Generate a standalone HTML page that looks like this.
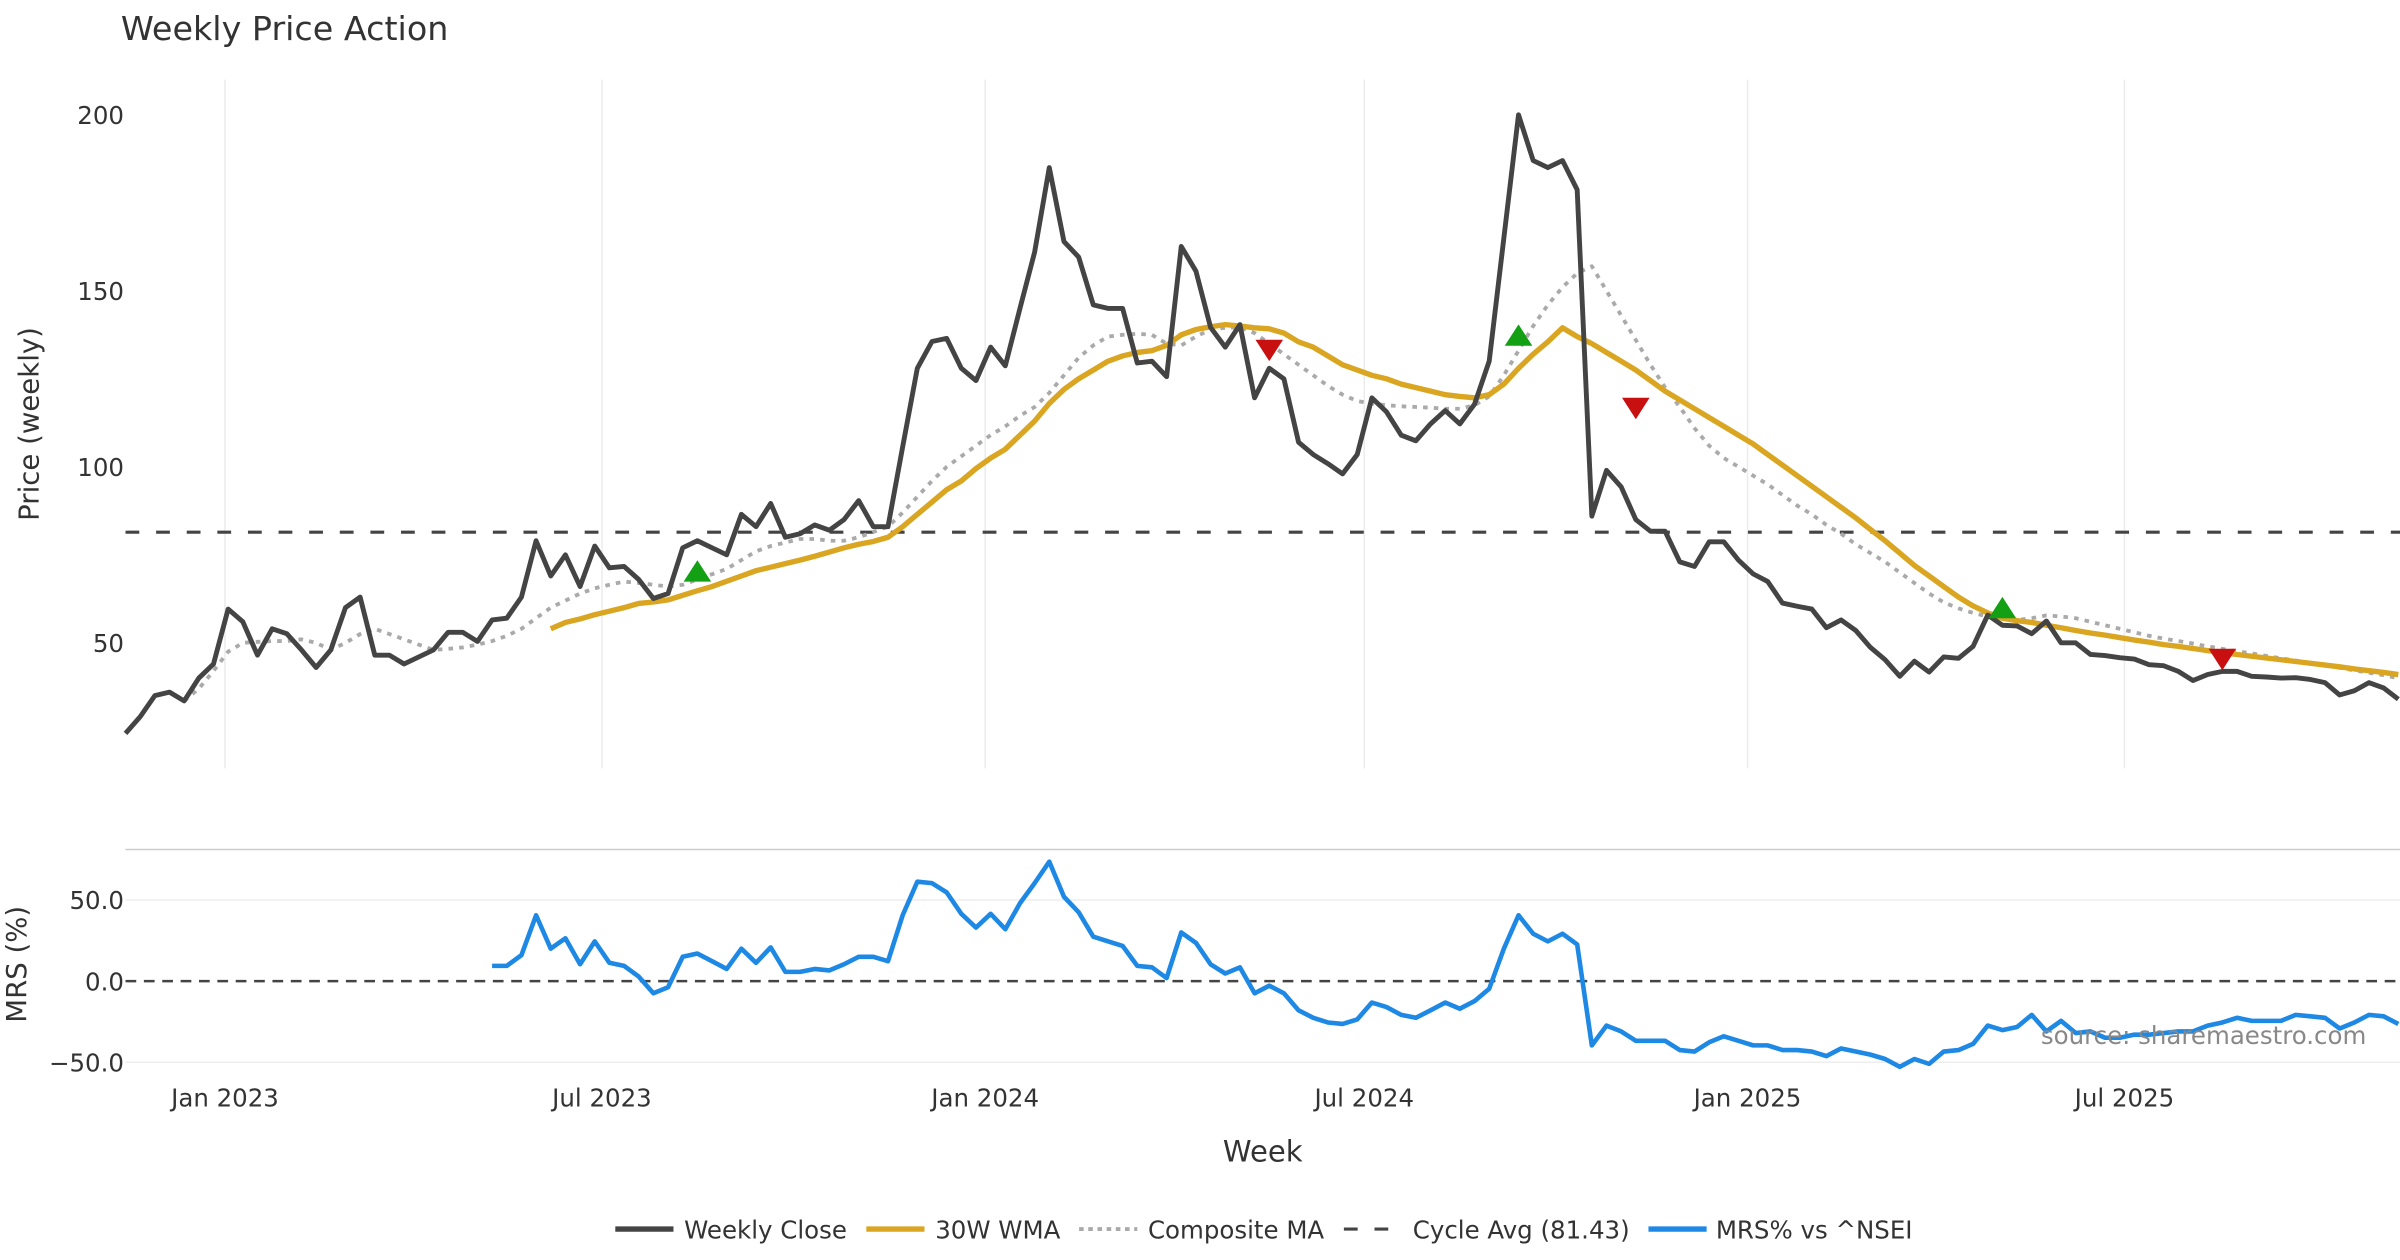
<!DOCTYPE html>
<html><head><meta charset="utf-8"><title>Weekly Price Action</title>
<style>html,body{margin:0;padding:0;background:#fff;}svg{display:block;font-family:"DejaVu Sans","Liberation Sans",sans-serif;}</style>
</head><body>
<svg id="chart" width="2400" height="1260" viewBox="0 0 1568 823.2" xmlns="http://www.w3.org/2000/svg">
<rect width="1568" height="823.2" fill="#fff"/>
<text x="79" y="26" font-size="21.8" fill="#333">Weekly Price Action</text>
<g id="price-grid"></g><g id="mrs-grid"></g>
<g id="price-plot"></g><g id="mrs-plot"></g><g id="axes"></g>
<text transform="translate(25,277) rotate(-90)" text-anchor="middle" font-size="18" fill="#333">Price (weekly)</text>
<text transform="translate(17,630) rotate(-90)" text-anchor="middle" font-size="18" fill="#333">MRS (%)</text>
<text x="825" y="759" text-anchor="middle" font-size="19" fill="#333">Week</text>
<text x="1546" y="682" text-anchor="end" font-size="16" fill="#888">source: sharemaestro.com</text>
<g font-size="16" fill="#333">
<g><line x1="402" y1="803" x2="440" y2="803" stroke="#444" stroke-width="3.5"/><text x="447" y="809">Weekly Close</text></g>
<g><line x1="566" y1="803" x2="604" y2="803" stroke="#DAA520" stroke-width="3.5"/><text x="611" y="809">30W WMA</text></g>
<g><line x1="705" y1="803" x2="743" y2="803" stroke="#aaa" stroke-width="2.5" stroke-dasharray="3,3"/><text x="750" y="809">Composite MA</text></g>
<g><line x1="878" y1="803" x2="916" y2="803" stroke="#444" stroke-width="2" stroke-dasharray="9,11"/><text x="923" y="809">Cycle Avg (81.43)</text></g>
<g><line x1="1077" y1="803" x2="1115" y2="803" stroke="#1E88E5" stroke-width="3.5"/><text x="1121" y="809">MRS% vs ^NSEI</text></g>
</g>
</svg>
<script>
const startDate = "2022-11-14";
const closeValues = [24.3,29,35,36,33.5,40,44,59.6,56,46.5,54,52.6,48,43,48,60,63,46.5,46.5,44,46,48,53,53,50.4,56.5,57,63,79,69,75,66,77.5,71.3,71.7,68,62.6,64,77,79,77,75,86.5,83,89.6,80,81,83.5,82,85,90.4,83,83,105.7,128,135.6,136.5,128,124.5,134,128.7,145,161,185,164,159.6,146,145,145,129.5,130,125.6,162.6,155.6,139.6,134,140.4,119.6,128,125,107,103.5,100.9,98,103.5,119.6,115.6,109,107.4,112.2,116,112.2,117.8,130,165,200,187,185,187,178.7,86,99,94.3,85,81.7,81.7,73,71.7,78.7,78.7,73.5,69.6,67.4,61.3,60.4,59.6,54.3,56.5,53.5,48.7,45.2,40.5,44.8,41.7,46,45.6,49,57.9,55,54.8,52.6,56.2,50,50,46.7,46.4,45.8,45.4,43.8,43.5,41.9,39.3,41,41.9,41.9,40.5,40.3,40,40.1,39.6,38.7,35.2,36.4,38.7,37.2,34];
const wmaStart = 29;
const wmaValues = [54,55.8,56.8,58,59,60,61.2,61.6,62.2,63.5,64.8,66,67.5,69,70.5,71.5,72.5,73.5,74.6,75.8,77,78,78.8,80,83,86.5,90,93.5,96,99.5,102.5,105,109,113,118,122,125,127.5,130,131.5,132.5,133,134.5,137.5,139,139.8,140.4,140,139.5,139.2,138,135.5,134,131.5,129,127.5,126,125,123.5,122.5,121.5,120.5,120,119.6,120.5,123.5,128,132,135.5,139.5,137,135,132.5,130,127.5,124.5,121.5,119,116.5,114,111.5,109,106.5,103.5,100.5,97.5,94.5,91.5,88.5,85.5,82.2,79,75.5,72,69,66,63,60.5,58.5,57,56.3,55.8,55,54.3,53.5,52.8,52.2,51.5,50.8,50.2,49.5,49,48.4,47.8,47.2,46.7,46.2,45.7,45.2,44.7,44.2,43.7,43.2,42.6,42.1,41.6,41];
const compStart = 4;
const compValues = [33.5,37,42,47.5,50,50.3,50.5,50.5,51,50,48,50,52.5,54,52.5,51,49.5,48,48.3,48.7,49.5,50.5,52,54,57,60,62,64,65.5,66.5,67.4,67,66.5,66,66.5,68,69.5,71,73.5,76,77.5,78.5,79.5,79.5,79,79,80,81.5,83,87,91.5,96,100,103,106,109,111.5,114.5,117,121,126,131,134.5,137,137.5,137.8,137.5,135,134.5,137,139,139.5,139.6,138,135,132,129,126,123,120.5,118.7,118,117.5,117.2,117,116.8,116.5,116.5,117.5,120,126,133,140,146,151,155,157,150,143,136,129,122.5,117,111,106,102.5,100,97.5,95,92,89,86.5,83.5,81,78,75.5,73,70,67,64,61.5,59.8,58.5,57.5,57,56.5,57,57.8,57.5,57,56,55,54,53,52,51.2,50.5,49.8,49,48.3,47.6,47,46.3,45.6,45,44.3,43.6,42.9,42.2,41.5,40.8,40];
const mrsStart = 25;
const mrsValues = [9.4,9.4,16,40.6,20,26.4,10.4,24.5,11.3,9.4,2.8,-7.5,-3.8,15,17,12.3,7.5,20,11.3,20.8,5.7,5.7,7.5,6.6,10.4,15,15,12.3,40.6,61.3,60.4,54.7,41.5,33,41.5,32,48,60.4,73.6,52,42.5,27.4,24.5,21.7,9.4,8.5,1.9,30,23.6,10.4,4.7,8.5,-7.5,-2.8,-7.5,-18,-22.6,-25.5,-26.4,-23.6,-13.2,-16,-20.8,-22.6,-18,-13.2,-17,-12.3,-4.7,20,40.6,29.2,24.5,29.2,22.6,-39.6,-27.4,-31,-36.8,-36.8,-36.8,-42.5,-43.4,-37.7,-34,-36.8,-39.6,-39.6,-42.5,-42.5,-43.4,-46.2,-41.5,-43.4,-45.3,-48,-52.8,-48,-51,-43.4,-42.5,-38.7,-27.4,-30.2,-28.3,-20.8,-31,-24.5,-32,-31,-34.9,-34.9,-33,-33,-32,-31,-31,-27.4,-25.5,-22.6,-24.5,-24.5,-24.5,-20.8,-21.7,-22.6,-29.2,-25.5,-20.8,-21.7,-26.4];
const cycleAvg = 81.43;
const buyWeeks = [39,95,128];
const buyValues = [70,137,59.6];
const sellWeeks = [78,103,143];
const sellValues = [133.5,117,45.7];
const priceTicks = [50,100,150,200];
const mrsTicks = [50,0,-50];
const mrsTickLabels = ["50.0","0.0","\u221250.0"];
const dateTicks = ["2023-01-01","2023-07-01","2024-01-01","2024-07-01","2025-01-01","2025-07-01"];
const dateTickLabels = ["Jan 2023","Jul 2023","Jan 2024","Jul 2024","Jan 2025","Jul 2025"];

const NS="http://www.w3.org/2000/svg";
const t0=Date.parse(startDate), WEEK=7*86400000;
const X0=82, PXW=9.58;
const tJan23=Date.parse("2023-01-01");
function xWeek(i){return X0+i*PXW;}
function xDate(s){return 147+(Date.parse(s)-tJan23)/WEEK*9.525;}
function yPrice(v){return 75+(200-v)*2.3;}
function yMrs(v){return 641-v*1.06;}
function mk(tag,attrs,parent){const e=document.createElementNS(NS,tag);for(const k in attrs)e.setAttribute(k,attrs[k]);parent.appendChild(e);return e;}
const pg=document.getElementById('price-grid'),mg=document.getElementById('mrs-grid'),pp=document.getElementById('price-plot'),mp=document.getElementById('mrs-plot'),ax=document.getElementById('axes');
dateTicks.forEach((d,k)=>{const x=xDate(d);
 const g1=mk('line',{x1:x,x2:x,y1:52,y2:502,stroke:'#ececec','stroke-width':1},pg);
 
 
 const t=mk('text',{x:x,y:723,'text-anchor':'middle','font-size':16,fill:'#333'},ax);t.textContent=dateTickLabels[k];
 
 
});
priceTicks.forEach(v=>{const t=mk('text',{x:81,y:yPrice(v)+6,'text-anchor':'end','font-size':16,fill:'#333'},ax);t.textContent=v;
 
 
});
mrsTicks.forEach((v,k)=>{const y=yMrs(v);
 if(v!==0){const gl=mk('line',{x1:82,x2:1568,y1:y,y2:y,stroke:'#eeeeee','stroke-width':1},mg);
 
 }
 const t=mk('text',{x:81,y:y+6,'text-anchor':'end','font-size':16,fill:'#333'},ax);t.textContent=mrsTickLabels[k];
 
 
});
const sep=mk('line',{x1:82,x2:1568,y1:555,y2:555,stroke:'#ccc','stroke-width':1},mg);


function path(vals,start,yf,attrs,parent,name){let d='';vals.forEach((v,i)=>{d+=(i?'L':'M')+xWeek(start+i).toFixed(2)+','+yf(v).toFixed(2);});
 const p=mk('path',Object.assign({d:d,fill:'none','stroke-linejoin':'round'},attrs),parent);
 
 return p;}
const ca=mk('line',{x1:82,x2:1568,y1:yPrice(cycleAvg),y2:yPrice(cycleAvg),stroke:'#444','stroke-width':2,'stroke-dasharray':'9,11'},pp);


path(compValues,compStart,yPrice,{stroke:'#aaa','stroke-width':2.5,'stroke-dasharray':'3,4'},pp,'composite-ma-line');
path(wmaValues,wmaStart,yPrice,{stroke:'#DAA520','stroke-width':3.5},pp,'wma-30w-line');
path(closeValues,0,yPrice,{stroke:'#444','stroke-width':3.2},pp,'weekly-close-line');
buyWeeks.forEach((w,i)=>{const x=xWeek(w),y=yPrice(buyValues[i]);
 const m=mk('polygon',{points:`${x-9},${y+6} ${x+9},${y+6} ${x},${y-8}`,fill:'#14A014'},pp);
 
 });
sellWeeks.forEach((w,i)=>{const x=xWeek(w),y=yPrice(sellValues[i]);
 const m=mk('polygon',{points:`${x-9},${y-6} ${x+9},${y-6} ${x},${y+8}`,fill:'#C81010'},pp);
 
 });
const zl=mk('line',{x1:82,x2:1568,y1:yMrs(0),y2:yMrs(0),stroke:'#444','stroke-width':1.6,'stroke-dasharray':'7,5'},mp);


path(mrsValues,mrsStart,yMrs,{stroke:'#1E88E5','stroke-width':3},mp,'mrs-line');
</script>
</body></html>
